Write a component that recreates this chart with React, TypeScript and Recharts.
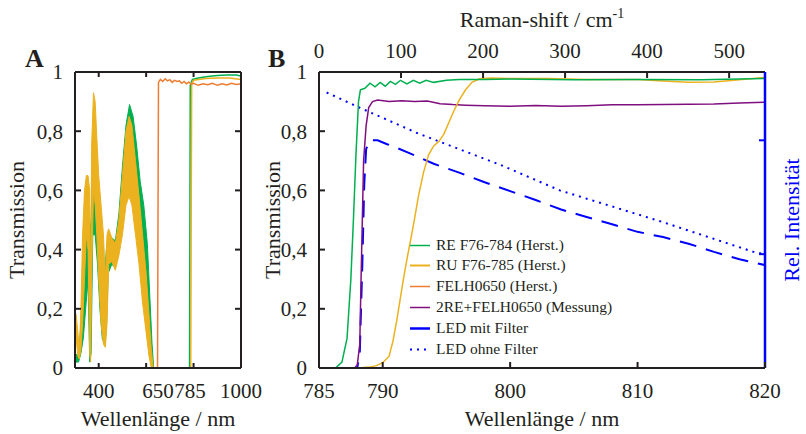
import React from 'react';
import { ComposedChart, Line, Area, XAxis, YAxis, Legend } from 'recharts';

// ---------------- data: panel A (300-1000 nm) ----------------
const A_RU_BAND_WL = [300, 305, 312, 318, 325, 332, 340, 348, 355, 362, 366, 370, 378, 385, 392, 400, 410, 420, 428, 435, 442, 455, 470, 485, 500, 515, 528, 540, 555, 570, 585, 600, 612, 622, 630];
const A_RU_BAND_LOW = [0.08, 0.10, 0.04, 0.03, 0.06, 0.15, 0.30, 0.45, 0.40, 0.05, 0.02, 0.30, 0.60, 0.55, 0.45, 0.30, 0.15, 0.08, 0.07, 0.15, 0.35, 0.36, 0.33, 0.38, 0.45, 0.55, 0.58, 0.55, 0.45, 0.35, 0.22, 0.12, 0.04, 0.0, 0];
const A_RU_BAND_HIGH = [0.19, 0.18, 0.12, 0.06, 0.20, 0.45, 0.60, 0.65, 0.65, 0.60, 0.25, 0.75, 0.93, 0.90, 0.78, 0.65, 0.55, 0.45, 0.30, 0.45, 0.47, 0.44, 0.42, 0.50, 0.65, 0.80, 0.85, 0.82, 0.70, 0.58, 0.45, 0.32, 0.18, 0.06, 0];

const A_RE_BAND_WL = [300, 315, 325, 335, 345, 355, 362, 368, 375, 385, 395, 405, 415, 425, 432, 440, 455, 470, 485, 500, 515, 530, 545, 560, 575, 590, 605, 615, 625, 632];
const A_RE_BAND_LOW = [0.02, 0.02, 0.05, 0.10, 0.20, 0.30, 0.02, 0.05, 0.45, 0.45, 0.35, 0.20, 0.10, 0.08, 0.12, 0.32, 0.35, 0.34, 0.40, 0.50, 0.62, 0.65, 0.62, 0.52, 0.42, 0.32, 0.15, 0.05, 0, 0];
const A_RE_BAND_HIGH = [0.05, 0.04, 0.15, 0.35, 0.50, 0.55, 0.45, 0.50, 0.75, 0.70, 0.60, 0.52, 0.45, 0.30, 0.40, 0.45, 0.44, 0.43, 0.52, 0.68, 0.82, 0.89, 0.85, 0.75, 0.63, 0.55, 0.42, 0.25, 0.08, 0];

const A_RE_WL = [632, 783, 784.5, 786, 795, 820, 860, 900, 940, 980, 1000];
const A_RE_T = [0, 0, 0.5, 0.955, 0.975, 0.98, 0.985, 0.988, 0.99, 0.99, 0.986];
const A_RU_WL = [630, 788, 790, 792, 800, 850, 900, 950, 1000];
const A_RU_T = [0, 0, 0.5, 0.96, 0.972, 0.978, 0.98, 0.98, 0.975];
const A_FELH_WL = [300, 648, 650, 652, 660, 670, 680, 690, 700, 710, 720, 730, 740, 750, 760, 770, 780, 790, 800, 820, 840, 860, 880, 900, 920, 940, 960, 980, 1000];
const A_FELH_T = [0, 0, 0.5, 0.965, 0.975, 0.968, 0.977, 0.97, 0.974, 0.965, 0.972, 0.968, 0.97, 0.962, 0.968, 0.96, 0.966, 0.958, 0.962, 0.955, 0.96, 0.957, 0.962, 0.955, 0.96, 0.956, 0.962, 0.958, 0.96];

// ---------------- data: panel B (785-820 nm) ----------------
const B_RE_WL = [785, 786.3, 786.8, 787.2, 787.5, 787.7, 787.9, 788.1, 788.25, 788.6, 789.0, 789.4, 789.8, 790.2, 790.6, 791.0, 791.4, 791.9, 792.4, 792.9, 793.4, 794, 795, 796, 798, 800, 805, 810, 815, 820];
const B_RE_T = [0, 0, 0.02, 0.1, 0.3, 0.5, 0.72, 0.9, 0.94, 0.945, 0.962, 0.95, 0.965, 0.952, 0.968, 0.958, 0.972, 0.96, 0.972, 0.962, 0.972, 0.965, 0.972, 0.975, 0.975, 0.976, 0.974, 0.975, 0.974, 0.978];

const B_RU_WL = [785, 788, 789, 789.5, 790, 790.5, 790.8, 791.1, 791.4, 791.7, 792.0, 792.4, 792.8, 793.2, 793.6, 794.0, 794.4, 794.8, 795.2, 795.6, 796.0, 796.5, 797.0, 797.6, 798.5, 800, 803, 806, 810, 812, 814, 816, 818, 820];
const B_RU_T = [0, 0, 0.003, 0.008, 0.018, 0.04, 0.09, 0.16, 0.24, 0.32, 0.39, 0.48, 0.58, 0.66, 0.72, 0.75, 0.765, 0.79, 0.83, 0.87, 0.905, 0.94, 0.965, 0.977, 0.98, 0.978, 0.978, 0.975, 0.975, 0.97, 0.965, 0.966, 0.974, 0.982];

const B_MESS_WL = [785, 787.8, 788.0, 788.2, 788.3, 788.4, 788.5, 788.7, 788.9, 789.2, 789.6, 790.5, 791.5, 792.5, 793.5, 794.5, 795.5, 796.5, 798, 800, 802, 804, 806, 808, 810, 812, 814, 816, 818, 820];
const B_MESS_T = [0, 0, 0.01, 0.08, 0.3, 0.5, 0.7, 0.82, 0.88, 0.9, 0.905, 0.9, 0.903, 0.9, 0.902, 0.893, 0.89, 0.888, 0.886, 0.884, 0.887, 0.884, 0.886, 0.889, 0.889, 0.89, 0.891, 0.892, 0.895, 0.898];

// LED curves, in units of the right axis (Rel. Intensität)
const B_LED_F_WL = [785, 788.0, 788.2, 788.4, 788.55, 788.7, 789.0, 789.6, 790.3, 791, 792, 794, 796, 798, 800, 802, 804, 806, 808, 810, 812, 814, 816, 818, 820];
const B_LED_F_I = [0, 0, 0.065, 0.455, 0.806, 0.962, 1.0, 1.0, 0.984, 0.969, 0.946, 0.897, 0.858, 0.816, 0.777, 0.738, 0.696, 0.663, 0.631, 0.598, 0.575, 0.546, 0.51, 0.478, 0.452];
const B_LED_WL = [785.6, 788.2, 792.7, 799.2, 803.9, 811.8, 819.1, 820];
const B_LED_I = [1.21, 1.143, 1.032, 0.893, 0.78, 0.644, 0.51, 0.5];

// ---------------- ticks / labels ----------------
const Y_TICKS = [0, 0.2, 0.4, 0.6, 0.8, 1];
const Y_INNER_TICKS = [0.2, 0.4, 0.6, 0.8];
const A_X_LABELS = [400, 650, 785, 1000];
const A_X_MARKS = [400, 600, 800];
const B_X_TICKS = [785, 790, 800, 810, 820];
const B_RAMAN_TICKS = [0, 100, 200, 300, 400, 500];
const B_RIGHT_TICKS = [0.5, 1];
const LEGEND_NAMES = ['RE F76-784 (Herst.)', 'RU F76-785 (Herst.)', 'FELH0650 (Herst.)', '2RE+FELH0650 (Messung)', 'LED mit Filter', 'LED ohne Filter'];

// ---------------- styles / layout ----------------
const FONT = '"Liberation Serif", "Times New Roman", Times, serif';
const INK = '#231f20';
const GREEN = '#00b050';
const YELLOW = '#ecb11f';
const ORANGE = '#ee7d31';
const PURPLE = '#7f0f7f';
const BLUE = '#0000ff';
const LEGEND_STYLES = [
  { color: GREEN, width: 1.5, dash: undefined as string | undefined },
  { color: YELLOW, width: 2, dash: undefined as string | undefined },
  { color: ORANGE, width: 1.5, dash: undefined as string | undefined },
  { color: PURPLE, width: 1.5, dash: undefined as string | undefined },
  { color: BLUE, width: 2.5, dash: undefined as string | undefined },
  { color: BLUE, width: 2, dash: '2 5' },
];

const W = 806;
const H = 434;
const PLOT_TOP = 72;
const PLOT_BOTTOM = 368;
const PLOT_H = PLOT_BOTTOM - PLOT_TOP;
const TICK_FS = 21;
const TITLE_FS = 22;
const TL = 5;

const A_CHART_W = 275;
const A_LEFT = 75;
const A_RIGHT = 241;

const B_OFFSET = 255;
const B_CHART_W = W - B_OFFSET;
const B_LEFT = 319 - B_OFFSET;
const B_RIGHT = 765 - B_OFFSET;

const RAMAN_MAX = 1e7 / 785 - 1e7 / 820;

const zip = (xs: number[], ys: number[], key: string) => xs.map((x, i) => ({ wl: x, [key]: ys[i] }));
const zipBand = (xs: number[], lo: number[], hi: number[]) => xs.map((x, i) => ({ wl: x, band: [lo[i], hi[i]] }));
const fmt = (v: number) => String(v).replace('.', ',');

const A_RU_BAND = zipBand(A_RU_BAND_WL, A_RU_BAND_LOW, A_RU_BAND_HIGH);
const A_RE_BAND = zipBand(A_RE_BAND_WL, A_RE_BAND_LOW, A_RE_BAND_HIGH);
const A_RE = zip(A_RE_WL, A_RE_T, 't');
const A_RU = zip(A_RU_WL, A_RU_T, 't');
const A_FELH = zip(A_FELH_WL, A_FELH_T, 't');
const B_RE = zip(B_RE_WL, B_RE_T, 't');
const B_RU = zip(B_RU_WL, B_RU_T, 't');
const B_MESS = zip(B_MESS_WL, B_MESS_T, 't');
const B_LEDF = zip(B_LED_F_WL, B_LED_F_I, 'i');
const B_LED = zip(B_LED_WL, B_LED_I, 'i');

const txt = { fontFamily: FONT, fill: INK } as const;

// ---------------- tick renderers ----------------
const LeftTick = (p: any) => {
  const { x, y, payload } = p;
  return (
    <g>
      <line x1={x} x2={x + TL + 1} y1={y} y2={y} stroke={INK} strokeWidth={2} />
      <text x={x - 12} y={y} dy="0.35em" textAnchor="end" fontSize={TICK_FS} {...txt}>
        {fmt(payload.value)}
      </text>
    </g>
  );
};

const RightMark = (color: string) => (p: any) => {
  const { x, y } = p;
  return <line x1={x} x2={x - TL - 1} y1={y} y2={y} stroke={color} strokeWidth={2} />;
};

const TopBottomMarks = (p: any) => {
  const { x, y } = p;
  return (
    <g>
      <line x1={x} x2={x} y1={y} y2={y + TL} stroke={INK} strokeWidth={2} />
      <line x1={x} x2={x} y1={y + PLOT_H} y2={y + PLOT_H - TL} stroke={INK} strokeWidth={2} />
    </g>
  );
};

const BottomLabel = (withMark: boolean) => (p: any) => {
  const { x, y, payload } = p;
  return (
    <g>
      {withMark && <line x1={x} x2={x} y1={y} y2={y - TL - 1} stroke={INK} strokeWidth={2} />}
      <text x={x} y={y + 30} textAnchor="middle" fontSize={TICK_FS} {...txt}>
        {payload.value}
      </text>
    </g>
  );
};

const TopLabel = (p: any) => {
  const { x, y, payload } = p;
  return (
    <g>
      <line x1={x} x2={x} y1={y} y2={y + TL + 1} stroke={INK} strokeWidth={2} />
      <text x={x} y={y - 14} textAnchor="middle" fontSize={TICK_FS} {...txt}>
        {payload.value}
      </text>
    </g>
  );
};

const BLegend = () => (
  <div style={{ fontFamily: FONT, fontSize: 15.5, color: INK }}>
    {LEGEND_NAMES.map((name, i) => {
      const s = LEGEND_STYLES[i];
      return (
        <div key={name} style={{ display: 'flex', alignItems: 'center', height: 20.9, whiteSpace: 'nowrap' }}>
          <svg width={26} height={20.9} style={{ display: 'block' }}>
            <line x1={0} x2={20} y1={10.5} y2={10.5} stroke={s.color} strokeWidth={s.width} strokeDasharray={s.dash} />
          </svg>
          <span style={{ lineHeight: '20.9px' }}>{name}</span>
        </div>
      );
    })}
  </div>
);

const axisLine = { stroke: INK, strokeWidth: 2 };

const PanelA = () => (
  <ComposedChart
    width={A_CHART_W}
    height={H}
    data={A_FELH}
    margin={{ top: PLOT_TOP - 10, right: A_CHART_W - A_RIGHT - 10, bottom: H - PLOT_BOTTOM - 40, left: 0 }}
  >
    <XAxis xAxisId="a" type="number" dataKey="wl" domain={[300, 1000]} allowDataOverflow ticks={A_X_LABELS} interval={0}
      height={40} tickSize={0} tickMargin={0} tickLine={false} axisLine={axisLine} tick={BottomLabel(false)} />
    <XAxis xAxisId="at" orientation="top" type="number" dataKey="wl" domain={[300, 1000]} allowDataOverflow ticks={A_X_MARKS} interval={0}
      height={10} tickSize={0} tickMargin={0} tickLine={false} axisLine={axisLine} tick={TopBottomMarks} />
    <YAxis yAxisId="a" type="number" domain={[0, 1]} allowDataOverflow ticks={Y_TICKS} interval={0}
      width={A_LEFT} tickSize={0} tickMargin={0} tickLine={false} axisLine={axisLine} tick={LeftTick} />
    <YAxis yAxisId="ar" orientation="right" type="number" dataKey="t" domain={[0, 1]} allowDataOverflow ticks={Y_INNER_TICKS} interval={0}
      width={10} tickSize={0} tickMargin={0} tickLine={false} axisLine={axisLine} tick={RightMark(INK)} />
    <Area xAxisId="a" yAxisId="a" data={A_RE_BAND} dataKey="band" type="linear" stroke={GREEN} strokeWidth={1}
      fill={GREEN} fillOpacity={1} dot={false} activeDot={false} isAnimationActive={false} />
    <Area xAxisId="a" yAxisId="a" data={A_RU_BAND} dataKey="band" type="linear" stroke={YELLOW} strokeWidth={1}
      fill={YELLOW} fillOpacity={1} dot={false} activeDot={false} isAnimationActive={false} />
    <Line xAxisId="a" yAxisId="a" data={A_RE} dataKey="t" type="linear" stroke={GREEN} strokeWidth={1.5} dot={false} isAnimationActive={false} />
    <Line xAxisId="a" yAxisId="a" data={A_RU} dataKey="t" type="linear" stroke={YELLOW} strokeWidth={1.5} dot={false} isAnimationActive={false} />
    <Line xAxisId="a" yAxisId="a" data={A_FELH} dataKey="t" type="linear" stroke={ORANGE} strokeWidth={1.5} dot={false} isAnimationActive={false} />
  </ComposedChart>
);

const PanelB = () => (
  <ComposedChart
    width={B_CHART_W}
    height={H}
    data={B_RE}
    margin={{ top: PLOT_TOP - 40, right: 0, bottom: H - PLOT_BOTTOM - 40, left: 0 }}
  >
    <XAxis xAxisId="b" type="number" dataKey="wl" domain={[785, 820]} allowDataOverflow ticks={B_X_TICKS} interval={0}
      height={40} tickSize={0} tickMargin={0} tickLine={false} axisLine={axisLine} tick={BottomLabel(true)} />
    <XAxis xAxisId="raman" orientation="top" type="number" dataKey="wl" domain={[0, RAMAN_MAX]} allowDataOverflow ticks={B_RAMAN_TICKS} interval={0}
      height={40} tickSize={0} tickMargin={0} tickLine={false} axisLine={axisLine} tick={TopLabel} />
    <YAxis yAxisId="left" type="number" domain={[0, 1]} allowDataOverflow ticks={Y_TICKS} interval={0}
      width={B_LEFT} tickSize={0} tickMargin={0} tickLine={false} axisLine={axisLine} tick={LeftTick} />
    <YAxis yAxisId="right" orientation="right" type="number" domain={[0, 1.3]} allowDataOverflow ticks={B_RIGHT_TICKS} interval={0}
      width={B_CHART_W - B_RIGHT} tickSize={0} tickMargin={0} tickLine={false} axisLine={{ stroke: BLUE, strokeWidth: 2.5 }} tick={RightMark(BLUE)} />
    <Line xAxisId="b" yAxisId="right" data={B_LED} dataKey="i" type="linear" stroke={BLUE} strokeWidth={2} strokeDasharray="2 5" dot={false} isAnimationActive={false} />
    <Line xAxisId="b" yAxisId="right" data={B_LEDF} dataKey="i" type="linear" stroke={BLUE} strokeWidth={2} strokeDasharray="17 10" dot={false} isAnimationActive={false} />
    <Line xAxisId="b" yAxisId="left" data={B_MESS} dataKey="t" type="linear" stroke={PURPLE} strokeWidth={1.5} dot={false} isAnimationActive={false} />
    <Line xAxisId="b" yAxisId="left" data={B_RU} dataKey="t" type="linear" stroke={YELLOW} strokeWidth={1.5} dot={false} isAnimationActive={false} />
    <Line xAxisId="b" yAxisId="left" data={B_RE} dataKey="t" type="linear" stroke={GREEN} strokeWidth={1.5} dot={false} isAnimationActive={false} />
    <Legend layout="vertical" align="center" verticalAlign="middle" content={() => <BLegend />}
      wrapperStyle={{ left: 410 - B_OFFSET, top: 234.5, width: 'auto', height: 'auto' }} />
  </ComposedChart>
);

export default function App() {
  return (
    <div style={{ position: 'absolute', left: 0, top: 0, width: W, height: H, background: '#fff', overflow: 'hidden' }}>
      <div style={{ position: 'absolute', left: 0, top: 0 }}>
        <PanelA />
      </div>
      <div style={{ position: 'absolute', left: B_OFFSET, top: 0 }}>
        <PanelB />
      </div>
      <svg width={W} height={H} style={{ position: 'absolute', left: 0, top: 0, pointerEvents: 'none' }}>
        <text x={25} y={67} fontSize={26} fontWeight="bold" {...txt}>A</text>
        <text x={268} y={67} fontSize={26} fontWeight="bold" {...txt}>B</text>
        <text transform={`translate(24, ${(PLOT_TOP + PLOT_BOTTOM) / 2}) rotate(-90)`} textAnchor="middle" fontSize={TITLE_FS} {...txt}>Transmission</text>
        <text transform={`translate(280, ${(PLOT_TOP + PLOT_BOTTOM) / 2}) rotate(-90)`} textAnchor="middle" fontSize={TITLE_FS} {...txt}>Transmission</text>
        <text x={(A_LEFT + A_RIGHT) / 2} y={426} textAnchor="middle" fontSize={TITLE_FS} {...txt}>Wellenlänge / nm</text>
        <text x={B_OFFSET + (B_LEFT + B_RIGHT) / 2} y={426} textAnchor="middle" fontSize={TITLE_FS} {...txt}>Wellenlänge / nm</text>
        <text x={B_OFFSET + (B_LEFT + B_RIGHT) / 2} y={27} textAnchor="middle" fontSize={TITLE_FS} {...txt}>
          Raman-shift / cm<tspan fontSize={14} dy={-9}>-1</tspan>
        </text>
        <text transform={`translate(799, ${(PLOT_TOP + PLOT_BOTTOM) / 2}) rotate(-90)`} textAnchor="middle" fontSize={TITLE_FS} fontFamily={FONT} fill={BLUE}>Rel. Intensität</text>
      </svg>
    </div>
  );
}
